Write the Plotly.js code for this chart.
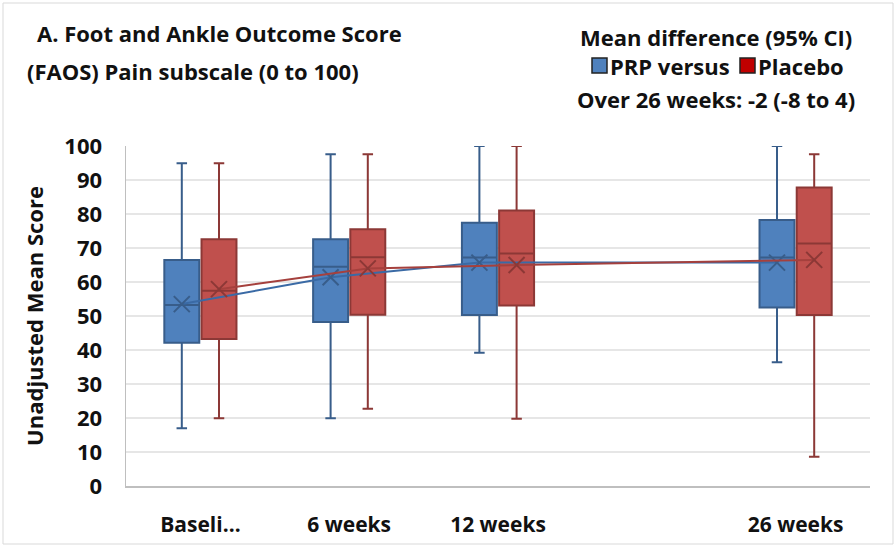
<!DOCTYPE html>
<html>
<head>
<meta charset="utf-8">
<script src="https://cdn.plot.ly/plotly-3.0.1.min.js"></script>
<style>html,body{margin:0;padding:0;background:#fff;}#chart{width:894px;height:545px;}</style>
</head>
<body>
<div id="chart"></div>
<script>
// ---- Data ----
var timepoints = ["Baseli…", "6 weeks", "12 weeks", "26 weeks"];
var positions  = [0, 1, 2, 4];           // category slots (slot 3 is an empty category)

var prpUpper   = [94.9, 97.6, 100, 100];
var prpQ3      = [66.5, 72.6, 77.4, 78.2];
var prpMedian  = [53.2, 64.5, 67.2, 67.2];
var prpQ1      = [42.1, 48.2, 50.3, 52.5];
var prpLower   = [17.0, 19.9, 39.2, 36.4];
var prpMean    = [53.5, 61.4, 65.7, 65.7];

var plaUpper   = [94.9, 97.6, 100, 97.6];
var plaQ3      = [72.6, 75.5, 81.0, 87.8];
var plaMedian  = [57.4, 67.3, 68.4, 71.3];
var plaQ1      = [43.2, 50.4, 53.1, 50.3];
var plaLower   = [19.9, 22.7, 19.8, 8.6];
var plaMean    = [57.9, 64.0, 65.0, 66.5];

var yTicks = [0,10,20,30,40,50,60,70,80,90,100];

// ---- Styling ----
var OFF = 0.125, BW = 0.235;
var blueFill = "#4f81bd", blueLine = "#3a6aa5", blueDark = "#385d8a";
var redFill = "#c0504d", redLine = "#a5403d", redDark = "#8c3836";
var FONT = "'Open Sans', Lato, sans-serif";

function shift(arr, d){ return arr.map(function(v){ return v + d; }); }

function boxTrace(name, xs, lo, q1, med, q3, hi, fill, line){
  return {
    type: "box", name: name, x: xs,
    lowerfence: lo, q1: q1, median: med, q3: q3, upperfence: hi,
    width: BW, whiskerwidth: 0.3, boxpoints: false,
    fillcolor: fill, line: {color: line, width: 2},
    hoverinfo: "skip", showlegend: false
  };
}
function meanTrace(xs, ys, lineColor, markColor){
  return {
    type: "scatter", mode: "lines+markers", x: xs, y: ys,
    line: {color: lineColor, width: 2},
    marker: {symbol: "x-thin", size: 16, line: {color: markColor, width: 2}, color: markColor},
    hoverinfo: "skip", showlegend: false
  };
}

var xBlue = shift(positions, -OFF), xRed = shift(positions, OFF);

var data = [
  boxTrace("PRP", xBlue, prpLower, prpQ1, prpMedian, prpQ3, prpUpper, blueFill, blueDark),
  boxTrace("Placebo", xRed, plaLower, plaQ1, plaMedian, plaQ3, plaUpper, redFill, redDark),
  meanTrace(xBlue, prpMean, blueLine, blueDark),
  meanTrace(xRed, plaMean, redLine, redDark)
];

function px2x(px){ return (px - 126) / 744; }
function px2y(py){ return (486 - py) / 340; }

var txt = {family: FONT, size: 22, color: "#111111", weight: 700};

function keyBox(x0, y0, color){
  return {type: "rect", xref: "paper", yref: "paper",
          x0: px2x(x0), x1: px2x(x0 + 15), y0: px2y(y0 + 15), y1: px2y(y0),
          line: {color: "#222222", width: 1.5}, fillcolor: color};
}

var layout = {
  width: 894, height: 545,
  margin: {l: 126, r: 24, t: 146, b: 59},
  paper_bgcolor: "#ffffff", plot_bgcolor: "#ffffff",
  font: {family: FONT, color: "#111111"},
  showlegend: false,
  xaxis: {
    range: [-0.5, 4.5], tickvals: positions, ticktext: timepoints,
    showgrid: false, zeroline: false, showline: true, linecolor: "#bfbfbf", linewidth: 1.5,
    ticks: "", ticklabelstandoff: 19,
    tickfont: {family: FONT, size: 21, color: "#111111", weight: 700}
  },
  yaxis: {
    range: [0, 100], tickvals: yTicks,
    showgrid: true, gridcolor: "#e6e6e6", gridwidth: 1.5,
    zeroline: false, showline: true, linecolor: "#bfbfbf", linewidth: 1.5,
    ticks: "", ticklabelstandoff: 18,
    tickfont: {family: FONT, size: 22, color: "#111111", weight: 700},
    title: {text: "Unadjusted Mean Score", standoff: 14,
            font: {family: FONT, size: 22, color: "#111111", weight: 700}}
  },
  shapes: [
    {type: "rect", xref: "paper", yref: "paper",
     x0: px2x(3), x1: px2x(893), y0: px2y(544), y1: px2y(3),
     line: {color: "#d9d9d9", width: 1}, fillcolor: "rgba(0,0,0,0)", layer: "below"},
    keyBox(592, 58, blueFill),
    keyBox(740, 58, "#c00000")
  ],
  annotations: [
    {xref: "paper", yref: "paper", x: px2x(35), y: px2y(33), xanchor: "left", yanchor: "middle",
     text: "A. Foot and Ankle Outcome Score", showarrow: false, font: txt},
    {xref: "paper", yref: "paper", x: px2x(25), y: px2y(71), xanchor: "left", yanchor: "middle",
     text: "(FAOS) Pain subscale (0 to 100)", showarrow: false, font: txt},
    {xref: "paper", yref: "paper", x: px2x(716), y: px2y(37), xanchor: "center", yanchor: "middle",
     text: "Mean difference (95% CI)", showarrow: false, font: txt},
    {xref: "paper", yref: "paper", x: px2x(608), y: px2y(66), xanchor: "left", yanchor: "middle",
     text: "PRP versus", showarrow: false, font: txt},
    {xref: "paper", yref: "paper", x: px2x(756), y: px2y(66), xanchor: "left", yanchor: "middle",
     text: "Placebo", showarrow: false, font: txt},
    {xref: "paper", yref: "paper", x: px2x(716), y: px2y(99), xanchor: "center", yanchor: "middle",
     text: "Over 26 weeks: -2 (-8 to 4)", showarrow: false, font: txt}
  ]
};

Plotly.newPlot("chart", data, layout, {staticPlot: true, displayModeBar: false});
</script>
</body>
</html>
